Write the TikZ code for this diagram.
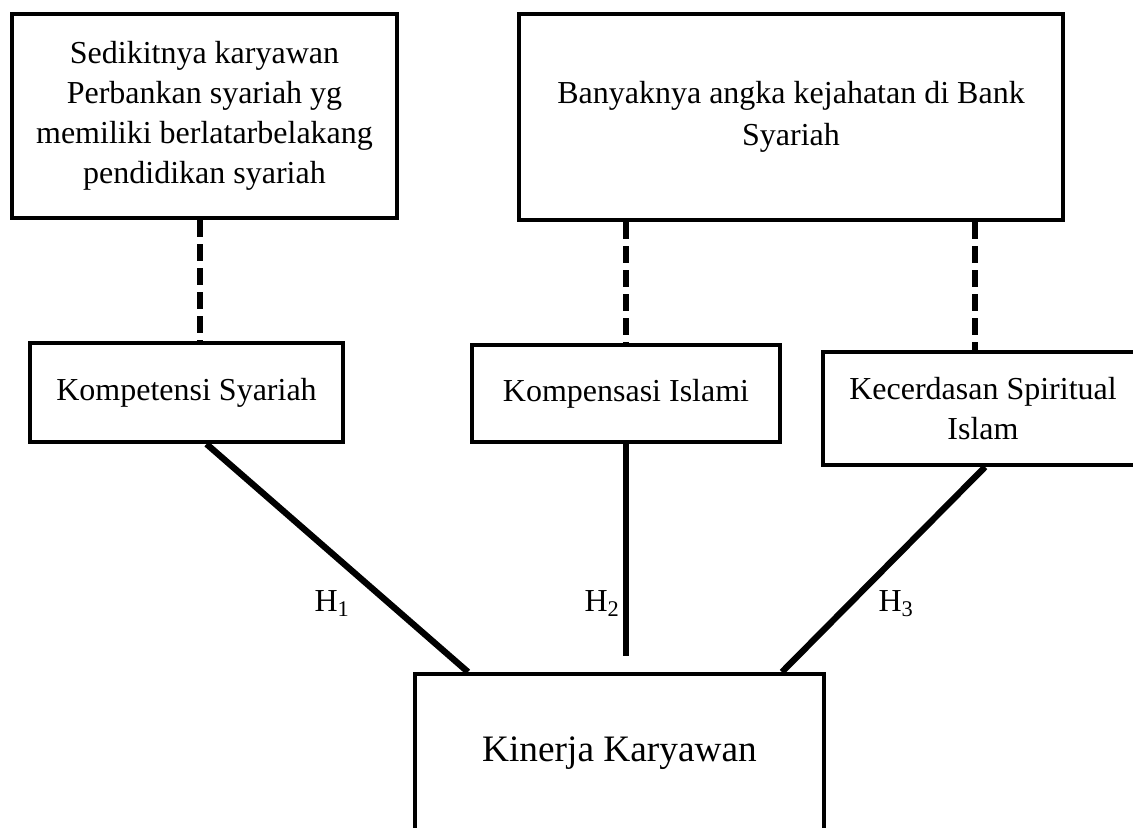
\documentclass[tikz,border=0pt]{standalone}
\usepackage{fontspec}
\setmainfont{Liberation Serif}
\usetikzlibrary{positioning,calc}
\newcommand\pxu{0.75pt}
\tikzset{
  kotak/.style={draw, line width=3pt, align=center, inner sep=4pt, font=\fontsize{24}{30}\selectfont},
  garis/.style={line width=4.75pt},
  putus/.style={line width=4.25pt, dash pattern=on 12.75pt off 5.25pt},
  hlabel/.style={font=\fontsize{24}{30}\selectfont, inner sep=0pt}
}

\begin{document}
\begin{tikzpicture}[x=0.75pt,y=-0.75pt]
\useasboundingbox (0,0) rectangle (1133,828);

% masalah
\node[kotak, minimum width=385*\pxu, minimum height=204*\pxu] (masalahA) at (204.5,116)
  {Sedikitnya karyawan\\Perbankan syariah yg\\memiliki berlatarbelakang\\pendidikan syariah};
\node[kotak, minimum width=544*\pxu, minimum height=206*\pxu, font=\fontsize{24}{31.5}\selectfont] (masalahB) at (791,117)
  {Banyaknya angka kejahatan di Bank\\Syariah};

% variabel
\node[kotak, minimum width=313*\pxu, minimum height=99*\pxu] (kompetensi) at (186.5,392.5)
  {Kompetensi Syariah};
\node[kotak, minimum width=308*\pxu, minimum height=97*\pxu] (kompensasi) at (626,393.5)
  {Kompensasi Islami};
\node[kotak, minimum width=320*\pxu, minimum height=113*\pxu] (kecerdasan) at (983,408.5)
  {Kecerdasan Spiritual\\Islam};
\node[kotak, minimum width=409*\pxu, minimum height=158*\pxu, font=\fontsize{28}{32}\selectfont] (kinerja) at (619.5,753)
  {Kinerja Karyawan};

% garis putus
\coordinate (pA) at ($(masalahA.south)+(-4.5,0)$);
\coordinate (pC) at ($(kecerdasan.north)+(-8,0)$);
\draw[putus] (pA) -- (pA |- kompetensi.north);
\draw[putus] (kompensasi.north |- masalahB.south) -- (kompensasi.north);
\draw[putus] (pC |- masalahB.south) -- (pC);

% hipotesis
\coordinate (akhir2) at ($(kompensasi.south |- kinerja.north)+(0,-16)$);
\draw[garis] ($(kompetensi.south)+(20,0)$) -- ($(kinerja.north west)+(55,0)$);
\draw[garis] (kompensasi.south) -- (akhir2);
\draw[garis] ($(kecerdasan.south)+(2,0)$) -- ($(kinerja.north east)+(-44,0)$);

\node[hlabel] (h1) at (332,604) {H\textsubscript{1}};
\node[hlabel] (h2) at (602,604) {H\textsubscript{2}};
\node[hlabel] (h3) at (896,604) {H\textsubscript{3}};
\end{tikzpicture}
\end{document}
